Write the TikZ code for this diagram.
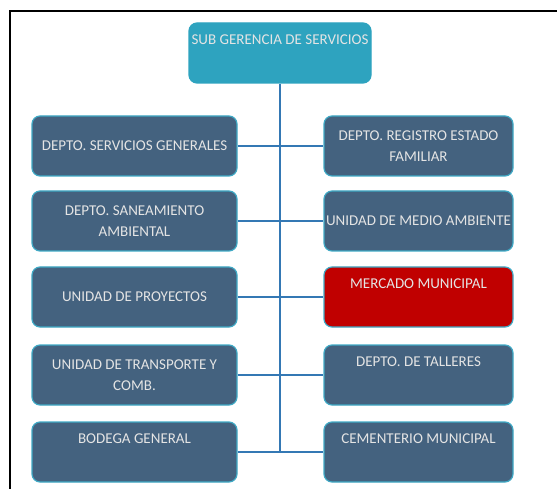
\documentclass[tikz,border=0pt]{standalone}
\usepackage{fontspec}
\setmainfont{Carlito}
\definecolor{boxblue}{HTML}{44627F}
\definecolor{boxedge}{HTML}{3FA9C5}
\definecolor{topcyan}{HTML}{2EA3BF}
\definecolor{boxred}{HTML}{C00000}
\definecolor{linkblue}{HTML}{3478B4}
\definecolor{txtgray}{HTML}{E4E4E4}
\tikzset{
  unit/.style={draw=boxedge, line width=1.2pt, fill=boxblue, rounded corners=8pt,
    minimum height=60pt, text=txtgray, align=center, inner sep=0pt,
    font=\fontsize{15}{21}\selectfont},
  leftunit/.style={unit, minimum width=205pt},
  rightunit/.style={unit, minimum width=189pt},
  link/.style={draw=linkblue, line width=1.3pt}
}

\begin{document}
\begin{tikzpicture}[x=1pt, y=-1pt]
  \useasboundingbox (0,0) rectangle (557,489);
  \draw[line width=1.5pt] (10,489) -- (10,11) -- (557,11);

  \node[unit, fill=topcyan, draw=topcyan, minimum width=182pt] (sub) at (280,53)
    {SUB GERENCIA DE SERVICIOS\\ \strut};

  \node[leftunit] (l1) at (134.5,146) {DEPTO. SERVICIOS GENERALES};
  \node[leftunit] (l2) at (134.5,221) {DEPTO. SANEAMIENTO\\AMBIENTAL};
  \node[leftunit] (l3) at (134.5,297) {UNIDAD DE PROYECTOS};
  \node[leftunit] (l4) at (134.5,375) {UNIDAD DE TRANSPORTE Y\\COMB.};
  \node[leftunit] (l5) at (134.5,452) {BODEGA GENERAL\\ \strut};

  \node[rightunit] (r1) at (418.5,146) {DEPTO. REGISTRO ESTADO\\FAMILIAR};
  \node[rightunit] (r2) at (418.5,221) {UNIDAD DE MEDIO AMBIENTE};
  \node[rightunit, fill=boxred] (r3) at (418.5,297) {MERCADO MUNICIPAL\\ \strut};
  \node[rightunit] (r4) at (418.5,375) {DEPTO. DE TALLERES\\ \strut};
  \node[rightunit] (r5) at (418.5,452) {CEMENTERIO MUNICIPAL\\ \strut};

  \draw[link] (sub.south) -- (sub.south |- l5.east);
  \draw[link] (l1.east) -- (r1.west);
  \draw[link] (l2.east) -- (r2.west);
  \draw[link] (l3.east) -- (r3.west);
  \draw[link] (l4.east) -- (r4.west);
  \draw[link] (l5.east) -- (r5.west);
\end{tikzpicture}
\end{document}
